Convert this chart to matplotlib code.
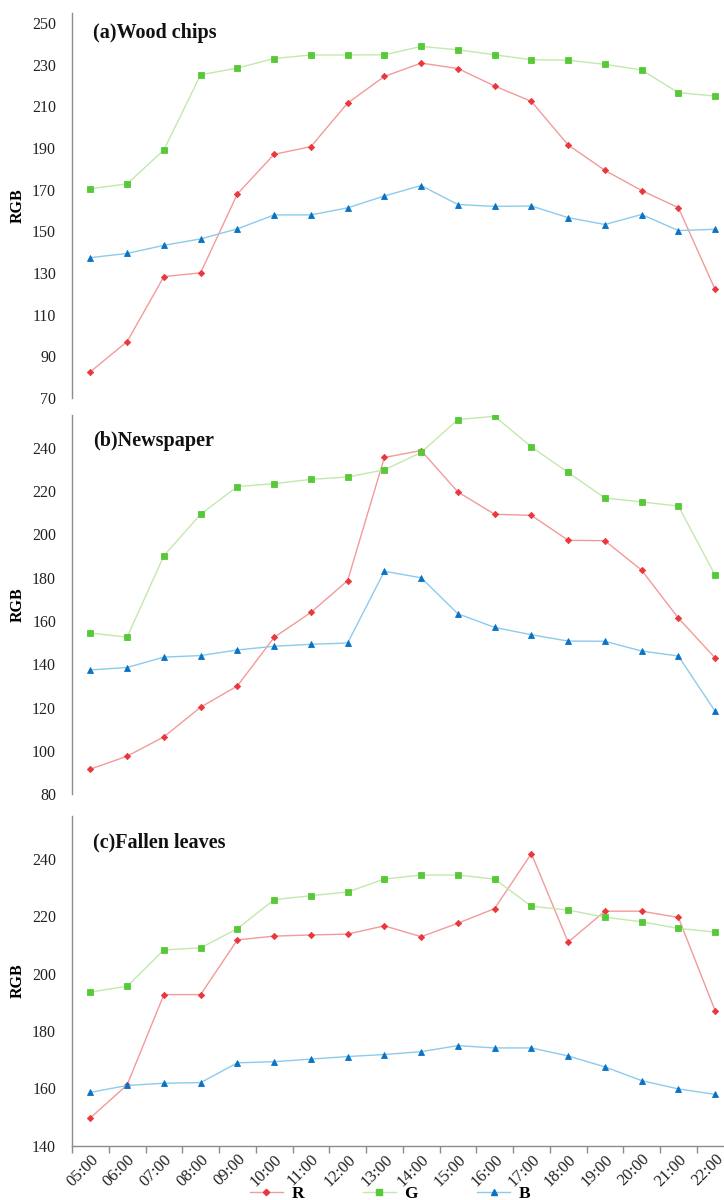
import matplotlib
matplotlib.use("Agg")
import matplotlib.pyplot as plt
from matplotlib.lines import Line2D

plt.rcParams['font.family'] = ['Liberation Serif', 'DejaVu Serif']

hours = ["05:00", "06:00", "07:00", "08:00", "09:00", "10:00", "11:00", "12:00", "13:00",
         "14:00", "15:00", "16:00", "17:00", "18:00", "19:00", "20:00", "21:00", "22:00"]

# (a) Wood chips
wood_r = [82.6, 97.1, 128.3, 130.1, 168.0, 187.0, 190.7, 211.6, 224.4,
          230.8, 228.2, 219.8, 212.4, 191.5, 179.3, 169.6, 161.4, 122.1]
wood_g = [170.5, 172.8, 189.1, 225.2, 228.4, 233.0, 234.7, 234.7, 234.8,
          238.8, 237.2, 234.8, 232.4, 232.2, 230.2, 227.5, 216.6, 215.0]
wood_b = [137.4, 139.4, 143.3, 146.4, 151.2, 157.9, 157.9, 161.3, 167.0,
          172.0, 162.9, 162.0, 162.2, 156.6, 153.3, 158.1, 150.4, 151.0]

# (b) Newspaper
news_r = [91.6, 97.6, 106.5, 120.2, 130.0, 152.4, 163.9, 178.6, 235.4,
          238.6, 219.5, 209.2, 208.7, 197.2, 197.0, 183.4, 161.3, 142.9]
news_g = [154.4, 152.5, 190.1, 209.2, 222.0, 223.3, 225.3, 226.4, 229.7,
          237.7, 252.9, 254.4, 240.3, 228.5, 216.7, 214.9, 213.0, 181.1]
news_b = [137.4, 138.5, 143.3, 144.0, 146.6, 148.3, 149.2, 149.8, 182.9,
          179.9, 163.3, 157.0, 153.6, 150.7, 150.6, 146.1, 143.8, 118.3]

# (c) Fallen leaves
leaf_r = [149.7, 161.2, 192.7, 192.7, 211.8, 213.1, 213.5, 213.8, 216.7,
          212.9, 217.6, 222.7, 241.9, 211.0, 221.8, 221.8, 219.6, 187.1]
leaf_g = [193.6, 195.6, 208.3, 209.0, 215.7, 225.8, 227.2, 228.5, 233.0,
          234.4, 234.4, 233.0, 223.5, 222.2, 219.7, 218.1, 215.8, 214.5]
leaf_b = [158.6, 161.0, 161.8, 162.0, 168.9, 169.3, 170.2, 171.1, 171.8,
          172.8, 174.9, 174.1, 174.1, 171.3, 167.5, 162.7, 159.8, 157.9]

panel_titles = ["(a)Wood chips", "(b)Newspaper", "(c)Fallen leaves"]
panel_data = [(wood_r, wood_g, wood_b), (news_r, news_g, news_b), (leaf_r, leaf_g, leaf_b)]
y_lows = [70, 80, 140]
y_ticks = [list(range(70, 251, 20)), list(range(80, 241, 20)), list(range(140, 241, 20))]

W, H = 724, 1200
fig = plt.figure(figsize=(W / 100, H / 100), dpi=100)

# pixel boxes (top, bottom) of each plotting area and title offsets from the top
boxes = [(12.7, 398.0), (415.0, 794.3), (816.0, 1145.7)]
title_dy = [20.5, 26.0, 26.0]
left_px = 72.0
cat_w = 36.75
right_px = left_px + cat_w * len(hours)
width_px = right_px - left_px

styles = {
    "R": dict(color="#f39a9a", marker="D", mfc="#e8383d", mec="#e8383d", ms=3.2),
    "G": dict(color="#c3e8ae", marker="s", mfc="#55c937", mec="#55c937", ms=4.3),
    "B": dict(color="#8ccbec", marker="^", mfc="#0a72c4", mec="#0a72c4", ms=4.3),
}
spine_col = "#8c8c8c"
x = list(range(len(hours)))

for i, (title, data) in enumerate(zip(panel_titles, panel_data)):
    top, bot = boxes[i]
    ax = fig.add_axes([left_px / W, 1 - bot / H, width_px / W, (bot - top) / H])
    for key, vals in zip("RGB", data):
        st = styles[key]
        ax.plot(x, vals, color=st["color"], lw=1.0, marker=st["marker"], ms=st["ms"],
                mfc=st["mfc"], mec=st["mec"], mew=0.6, label=key, zorder=3)
    ax.set_xlim(-0.5, len(hours) - 0.5)
    ax.set_ylim(y_lows[i], 255)
    ax.set_yticks(y_ticks[i])
    ax.tick_params(axis="y", length=0, pad=11.5, labelsize=11.5, labelcolor="#222222")
    for s in ("top", "right"):
        ax.spines[s].set_visible(False)
    ax.spines["left"].set_color(spine_col)
    ax.spines["left"].set_linewidth(1.0)
    ax.set_ylabel("RGB", fontsize=11.5, fontweight="bold")
    ax.yaxis.set_label_coords(-46 / width_px, 0.5)
    ax.text(21 / width_px, 1 - title_dy[i] / (bot - top), title, transform=ax.transAxes,
            fontsize=14.5, fontweight="bold", ha="left", va="center", color="#111111")
    if i < 2:
        ax.spines["bottom"].set_visible(False)
        ax.set_xticks([])
    else:
        ax.spines["bottom"].set_color(spine_col)
        ax.spines["bottom"].set_linewidth(1.0)
        ax.set_xticks(x)
        ax.set_xticklabels(hours, rotation=45, ha="right", va="top", rotation_mode="anchor",
                           fontsize=12, color="#222222")
        ax.tick_params(axis="x", which="major", length=0, pad=4)
        ax.set_xticks([k - 0.5 for k in range(len(hours) + 1)], minor=True)
        ax.tick_params(axis="x", which="minor", length=5, color=spine_col, width=1.0)

handles = [Line2D([], [], color=styles[k]["color"], lw=1.0, marker=styles[k]["marker"],
                  ms=styles[k]["ms"], mfc=styles[k]["mfc"], mec=styles[k]["mec"], label=k)
           for k in "RGB"]
leg = fig.legend(handles=handles, loc="center", bbox_to_anchor=(390 / W, 1 - 1194 / H),
                 ncol=3, frameon=False, handlelength=1.9, columnspacing=3.4,
                 handletextpad=0.5, prop={"size": 12.5, "weight": "bold"})

fig.savefig("out.png", dpi=100)
